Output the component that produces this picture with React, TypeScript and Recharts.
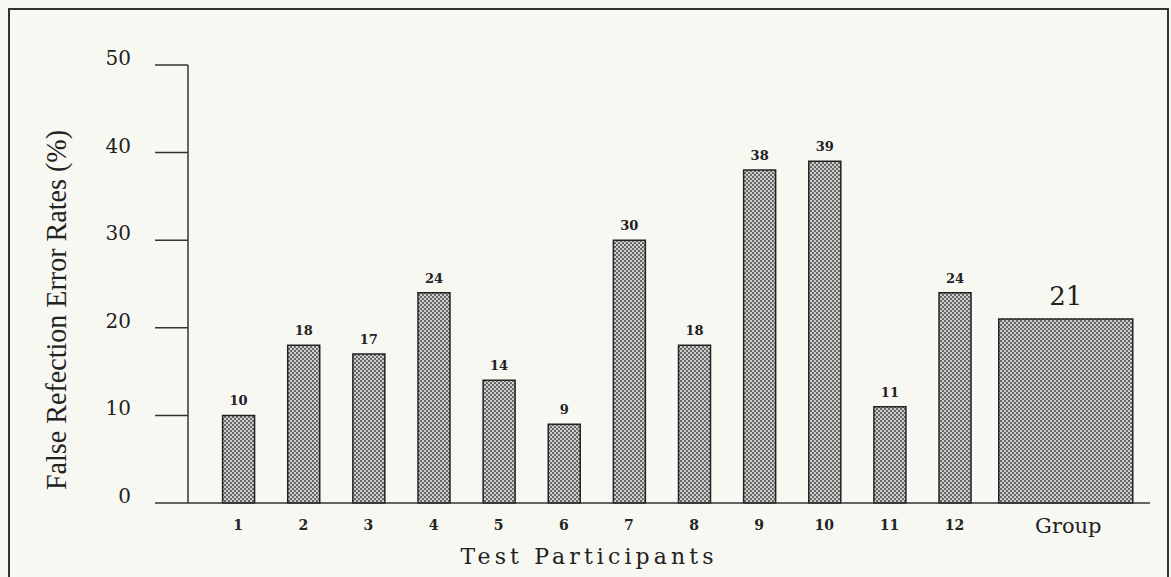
import React from 'react';
import { BarChart, Bar, XAxis, YAxis, LabelList, Rectangle } from 'recharts';

const participants = ['1', '2', '3', '4', '5', '6', '7', '8', '9', '10', '11', '12'];
const participantRates = [10, 18, 17, 24, 14, 9, 30, 18, 38, 39, 11, 24];
const groupLabel = 'Group';
const groupRate = 21;
const yTicks = [0, 10, 20, 30, 40, 50];

const GROUP_GAP = 1.7;
const X_DOMAIN: [number, number] = [0.23, 15];
const GROUP_BAR_W = 134;

const table = [
  ...participants.map((p, i) => ({ pos: i + 1, label: p, rate: participantRates[i] })),
  { pos: participants.length + GROUP_GAP, label: groupLabel, group: groupRate },
];
const xTicks = table.map((d) => d.pos);
const labelAt = (pos: number) => table.find((d) => d.pos === pos)?.label ?? '';

const BG = '#f8f8f3';
const INK = '#222';
const SERIF = '"DejaVu Serif", serif';

const XTick = (props: any) => {
  const { x, y, payload } = props;
  const lab = labelAt(payload.value);
  const isGroup = lab === groupLabel;
  return (
    <text
      x={x + (isGroup ? 3 : 0)}
      y={y + (isGroup ? 30 : 27)}
      textAnchor="middle"
      fontFamily={SERIF}
      fontSize={isGroup ? 21 : 14}
      fontWeight={isGroup ? 'normal' : 'bold'}
      fill={INK}
    >
      {lab}
    </text>
  );
};

const YTick = (props: any) => {
  const { x, y, payload } = props;
  return (
    <text x={x} y={y - 7} dy="0.35em" textAnchor="end" fontFamily={SERIF} fontSize={20} fill={INK}>
      {payload.value}
    </text>
  );
};

const WideBar = (props: any) => {
  const { x, width } = props;
  return <Rectangle {...props} x={x + width / 2 - GROUP_BAR_W / 2} width={GROUP_BAR_W} />;
};

export default function App() {
  return (
    <div style={{ position: 'fixed', left: 0, top: 0, width: 1171, height: 577, background: BG, overflow: 'hidden' }}>
      <div
        style={{
          position: 'absolute',
          left: 8,
          top: 8,
          width: 1157,
          height: 640,
          border: '2px solid #333',
        }}
      />
      <div style={{ position: 'absolute', left: 0, top: 0 }}>
        <BarChart width={1171} height={577} data={table} margin={{ top: 65, right: 21, bottom: 44, left: 0 }}>
          <defs>
            <pattern id="dots" width="4" height="4" patternUnits="userSpaceOnUse">
              <rect width="4" height="4" fill="#cdcdcd" />
              <rect x="0" y="0" width="2" height="2" fill="#686868" />
              <rect x="2" y="2" width="2" height="2" fill="#686868" />
            </pattern>
          </defs>
          <XAxis
            xAxisId="p"
            dataKey="pos"
            type="number"
            domain={X_DOMAIN}
            ticks={xTicks}
            interval={0}
            height={30}
            tick={<XTick />}
            tickLine={false}
            tickSize={0}
            tickMargin={0}
            axisLine={{ stroke: '#333', strokeWidth: 1.5 }}
            allowDataOverflow
            label={{
              content: () => (
                <text
                  x={587}
                  y={564}
                  textAnchor="middle"
                  fontFamily={SERIF}
                  fontSize={22}
                  fill={INK}
                  textLength={253}
                  lengthAdjust="spacing"
                >
                  Test Participants
                </text>
              ),
            }}
          />
          <XAxis xAxisId="g" dataKey="pos" type="number" domain={X_DOMAIN} hide height={0} allowDataOverflow />
          <YAxis
            width={188}
            domain={[0, 50]}
            ticks={yTicks}
            interval={0}
            tick={<YTick />}
            tickSize={33}
            tickMargin={24}
            tickLine={{ stroke: '#333', strokeWidth: 1.5 }}
            axisLine={{ stroke: '#333', strokeWidth: 1.5 }}
            label={{
              content: () => (
                <text
                  x={0}
                  y={0}
                  transform="translate(66, 310) rotate(-90)"
                  textAnchor="middle"
                  fontFamily='"Liberation Serif", serif'
                  fontSize={30}
                  fill={INK}
                  textLength={360}
                  lengthAdjust="spacingAndGlyphs"
                >
                  False Refection Error Rates  (%)
                </text>
              ),
            }}
          />
          <Bar
            xAxisId="p"
            dataKey="rate"
            barSize={32}
            fill="url(#dots)"
            stroke="#222"
            strokeWidth={1.5}
            isAnimationActive={false}
          >
            <LabelList
              dataKey="rate"
              position="top"
              offset={10}
              fontFamily={SERIF}
              fontSize={13}
              fontWeight="bold"
              fill={INK}
            />
          </Bar>
          <Bar
            xAxisId="g"
            dataKey="group"
            barSize={32}
            shape={<WideBar />}
            fill="url(#dots)"
            stroke="#222"
            strokeWidth={1.5}
            isAnimationActive={false}
          >
            <LabelList
              dataKey="group"
              position="top"
              offset={14}
              fontFamily={SERIF}
              fontSize={26}
              fill={INK}
            />
          </Bar>
        </BarChart>
      </div>
    </div>
  );
}
